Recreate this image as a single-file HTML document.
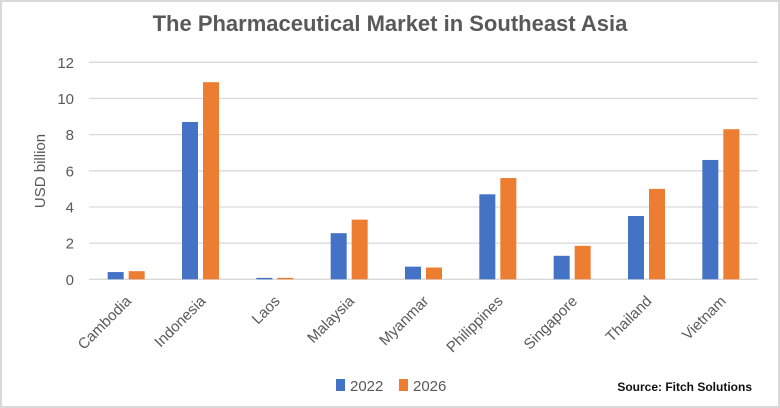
<!DOCTYPE html>
<html><head><meta charset="utf-8"><style>
html,body{margin:0;padding:0;background:#fff;}
svg{display:block;font-family:"Liberation Sans",sans-serif;}
</style></head><body>
<svg width="780" height="408" viewBox="0 0 780 408">
<rect x="1" y="1" width="778" height="406" fill="#fff" stroke="#d9d9d9" stroke-width="2"/>
<text x="390" y="31" text-anchor="middle" font-size="22" font-weight="bold" fill="#595959">The Pharmaceutical Market in Southeast Asia</text>
<text transform="translate(45,171) rotate(-90)" text-anchor="middle" font-size="15" fill="#595959">USD billion</text>
<g id="grid"></g><g id="bars"></g><g id="labels"></g>
<rect x="336" y="379" width="9" height="12" fill="#4472c4"/>
<text x="350" y="391" font-size="15" fill="#595959">2022</text>
<rect x="399" y="379" width="9" height="12" fill="#ed7d31"/>
<text x="413" y="391" font-size="15" fill="#595959">2026</text>
<text x="752" y="391" text-anchor="end" font-size="12" font-weight="bold" fill="#111">Source: Fitch Solutions</text>
</svg>
<script>
const categories=["Cambodia","Indonesia","Laos","Malaysia","Myanmar","Philippines","Singapore","Thailand","Vietnam"];
const values2022=[0.4,8.7,0.08,2.55,0.7,4.7,1.3,3.5,6.6];
const values2026=[0.45,10.9,0.08,3.3,0.65,5.6,1.85,5.0,8.3];
const yTicks=[0,2,4,6,8,10,12];
const NS="http://www.w3.org/2000/svg";
const left=89,right=758,y0=279.3,y12=62.3;
const step=(right-left)/categories.length;
function y(v){return y0-(v/12)*(y0-y12);}
function xc(i){return left+step*(i+0.5);}
function mk(tag,attrs,parent){const e=document.createElementNS(NS,tag);for(const k in attrs)e.setAttribute(k,attrs[k]);document.getElementById(parent).appendChild(e);return e;}
yTicks.forEach(t=>{
 const l=mk("line",{x1:left,x2:right,y1:y(t),y2:y(t),stroke:"#d9d9d9","stroke-width":1.3},"grid");
 
 
 const tx=mk("text",{x:74,y:y(t)+5.5,"text-anchor":"end","font-size":15,fill:"#595959"},"grid");
 tx.textContent=t;
 
 
});
categories.forEach((c,i)=>{
 const cx=xc(i);
 const b1=mk("rect",{x:cx-18.5,width:16,y:y(values2022[i]),height:y0-y(values2022[i]),fill:"#4472c4"},"bars");
 
 
 const b2=mk("rect",{x:cx+2.5,width:16,y:y(values2026[i]),height:y0-y(values2026[i]),fill:"#ed7d31"},"bars");
 
 
 const t=mk("text",{transform:`translate(${cx+6},302) rotate(-45)`,"text-anchor":"end","font-size":15,fill:"#595959"},"labels");
 t.textContent=c;
 
 
});
</script>
</body></html>
